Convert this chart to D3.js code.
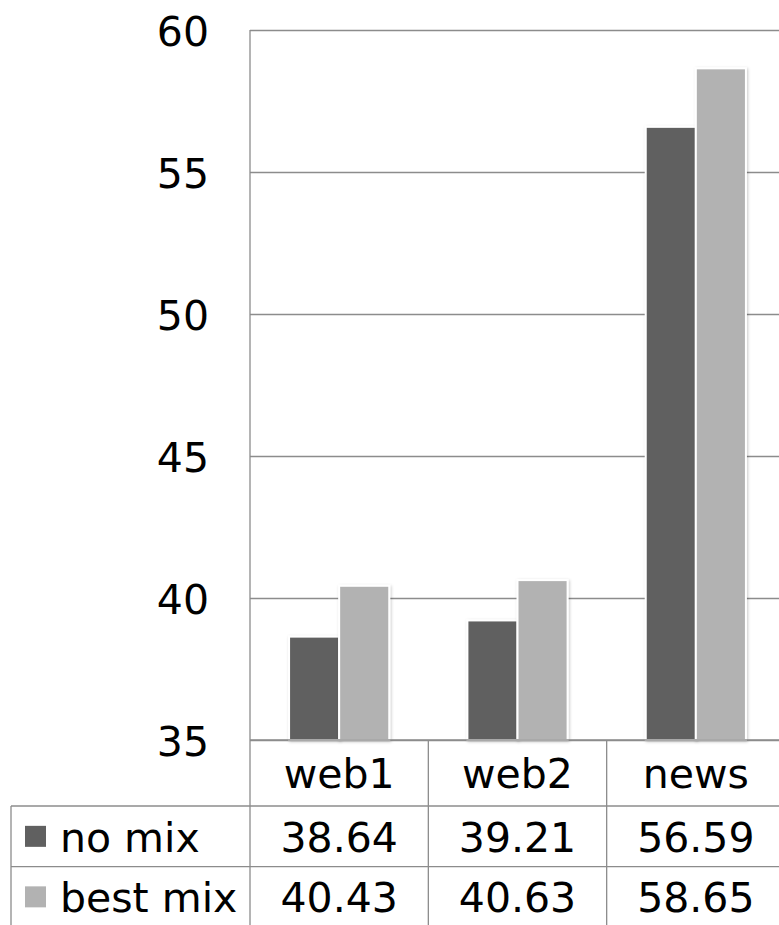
<!DOCTYPE html>
<html>
<head>
<meta charset="utf-8">
<script src="https://cdn.jsdelivr.net/npm/d3@7"></script>
<style>
  html, body { margin: 0; padding: 0; background: #fff; }
  svg { display: block; }
  text { font-family: "DejaVu Sans", Verdana, sans-serif; fill: #000; }
</style>
</head>
<body>
<svg id="chart" width="779" height="925"></svg>
<script>
// ---- data ----
const categories = ["web1", "web2", "news"];
const seriesNames = ["no mix", "best mix"];
const noMix = [38.64, 39.21, 56.59];
const bestMix = [40.43, 40.63, 58.65];
const yTicks = [35, 40, 45, 50, 55, 60];
const yDomain = [35, 60];

// ---- styles / layout ----
const seriesColors = ["#606060", "#b2b2b2"];
const gridColor = "#8c8c8c";
const fontSize = 41;
const plotLeft = 250, plotRight = 785, plotTop = 30, plotBottom = 740;
const headerBottom = 806, row1Bottom = 866.7, row2Bottom = 927;
const tableLeft = 11;

const svg = d3.select("#chart");
const defs = svg.append("defs");
const f = defs.append("filter").attr("id", "shadow")
  .attr("x", "-20%").attr("y", "-20%").attr("width", "140%").attr("height", "140%");
f.append("feDropShadow").attr("dx", 1).attr("dy", 1).attr("stdDeviation", 1.6)
  .attr("flood-color", "#000").attr("flood-opacity", 0.22);

const series = seriesNames.map((name, i) => ({ name, values: i === 0 ? noMix : bestMix, color: seriesColors[i] }));

const x0 = d3.scaleBand().domain(categories).range([plotLeft, plotRight]).padding(0);
const x1 = d3.scaleBand().domain(seriesNames).range([0, x0.bandwidth()])
  .paddingInner(0).paddingOuter(0.78);
const y = d3.scaleLinear().domain(yDomain).range([plotBottom, plotTop]);

// gridlines
const grid = svg.append("g").attr("transform", `translate(${plotLeft},0)`)
  .call(d3.axisLeft(y).tickValues(yTicks).tickSize(-(plotRight - plotLeft)).tickFormat(""));
grid.select(".domain").remove();
grid.selectAll("line").attr("stroke", gridColor).attr("stroke-width", 1.3);

// y axis labels
const yAxis = svg.append("g").attr("transform", `translate(${plotLeft},0)`)
  .call(d3.axisLeft(y).tickValues(yTicks).tickSize(0).tickPadding(plotLeft - 209).tickFormat(d3.format("d")));
yAxis.select(".domain").remove();
yAxis.selectAll("text").attr("font-size", fontSize).attr("font-family", "DejaVu Sans, Verdana, sans-serif")
  .attr("fill", "#000").attr("dy", "0.37em");

// left plot border
svg.append("line").attr("x1", plotLeft).attr("x2", plotLeft).attr("y1", y(60)).attr("y2", plotBottom)
  .attr("stroke", gridColor).attr("stroke-width", 1.3);

// bars
const groups = svg.append("g").selectAll("g").data(series).join("g");
groups.selectAll("rect").data(s => s.values.map((v, i) => ({ s, v, c: categories[i] }))).join("rect")
  .attr("x", d => x0(d.c) + x1(d.s.name))
  .attr("width", x1.bandwidth())
  .attr("y", d => y(d.v))
  .attr("height", d => plotBottom - y(d.v))
  .attr("fill", d => d.s.color)
  .attr("stroke", "#fff").attr("stroke-width", 2)
  .attr("filter", "url(#shadow)");

// redraw baseline on top
svg.append("line").attr("x1", plotLeft).attr("x2", plotRight).attr("y1", plotBottom).attr("y2", plotBottom)
  .attr("stroke", gridColor).attr("stroke-width", 1.3);

// ---- data table ----
const table = svg.append("g");
const ln = (x1_, y1_, x2_, y2_) => table.append("line")
  .attr("x1", x1_).attr("y1", y1_).attr("x2", x2_).attr("y2", y2_)
  .attr("stroke", gridColor).attr("stroke-width", 1.3);
ln(plotLeft, plotBottom, plotLeft, row2Bottom);
categories.forEach(c => ln(x0(c) + x0.bandwidth(), plotBottom, x0(c) + x0.bandwidth(), row2Bottom));
ln(tableLeft, headerBottom, plotRight, headerBottom);
ln(tableLeft, row1Bottom, plotRight, row1Bottom);
ln(tableLeft, row2Bottom, plotRight, row2Bottom);
ln(tableLeft, headerBottom, tableLeft, row2Bottom);

// header
table.selectAll("text.cat").data(categories).join("text").attr("class", "cat")
  .attr("x", d => x0(d) + x0.bandwidth() / 2).attr("y", 788)
  .attr("text-anchor", "middle").attr("font-size", fontSize).text(d => d);

const rowBaselines = [851.7, 911.7];
const rowCenters = [(headerBottom + row1Bottom) / 2, (row1Bottom + row2Bottom) / 2];
series.forEach((s, si) => {
  table.append("rect").attr("x", 25).attr("y", rowCenters[si] - 10.5)
    .attr("width", 21).attr("height", 21).attr("fill", s.color);
  table.append("text").attr("x", 60).attr("y", rowBaselines[si])
    .attr("font-size", fontSize).text(s.name);
  table.selectAll(null).data(s.values).join("text")
    .attr("x", (d, i) => x0(categories[i]) + x0.bandwidth() / 2)
    .attr("y", rowBaselines[si]).attr("text-anchor", "middle")
    .attr("font-size", fontSize).text(d => d3.format(".2f")(d));
});
</script>
</body>
</html>
